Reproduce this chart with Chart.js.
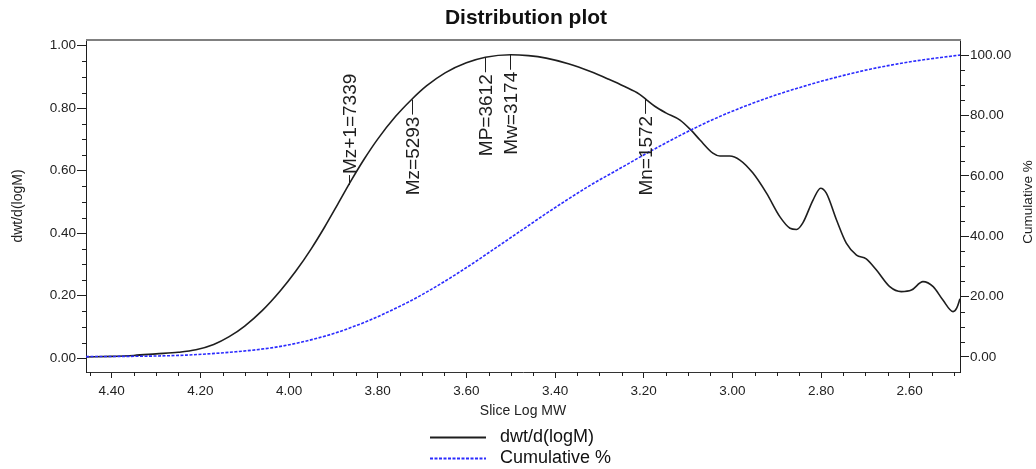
<!DOCTYPE html>
<html>
<head>
<meta charset="utf-8">
<script src="https://cdn.jsdelivr.net/npm/chart.js@4.4.0/dist/chart.umd.min.js"></script>
<style>
  html, body { margin: 0; padding: 0; background: #fff; }
</style>
</head>
<body>
<canvas id="chart" width="1036" height="469"></canvas>
<script>
// values (slice log MW, left to right = high to low)
const dwtLogMW = [4.458, 4.40, 4.35, 4.30, 4.25, 4.21, 4.17, 4.135, 4.10, 4.06, 4.02, 3.985, 3.95, 3.92, 3.89, 3.86,
  3.83, 3.80, 3.76, 3.724, 3.69, 3.648, 3.60, 3.557, 3.50, 3.46, 3.42, 3.37, 3.32, 3.28, 3.243, 3.21, 3.193, 3.175,
  3.15, 3.118, 3.092, 3.073, 3.044, 3.028, 3.006, 2.983, 2.954, 2.923, 2.893, 2.870, 2.855, 2.841, 2.818, 2.801,
  2.788, 2.765, 2.743, 2.720, 2.698, 2.675, 2.645, 2.619, 2.596, 2.570, 2.547, 2.525, 2.502, 2.494, 2.4865];
const dwtValues = [0.004, 0.006, 0.009, 0.014, 0.019, 0.027, 0.044, 0.069, 0.103, 0.153, 0.215, 0.278, 0.350, 0.419, 0.493, 0.568,
  0.638, 0.701, 0.773, 0.827, 0.871, 0.913, 0.945, 0.963, 0.971, 0.968, 0.960, 0.942, 0.917, 0.893, 0.869, 0.845, 0.826, 0.806,
  0.785, 0.762, 0.728, 0.698, 0.656, 0.647, 0.647, 0.634, 0.593, 0.528, 0.453, 0.416, 0.412, 0.433, 0.506, 0.544,
  0.528, 0.442, 0.368, 0.330, 0.318, 0.282, 0.229, 0.213, 0.218, 0.245, 0.229, 0.186, 0.149, 0.160, 0.190];

const cumLogMW = [4.458, 4.30, 4.232, 4.12, 4.045, 4.015, 3.969, 3.926, 3.894, 3.85, 3.819, 3.781, 3.724, 3.68, 3.623,
  3.57, 3.522, 3.47, 3.42, 3.37, 3.319, 3.26, 3.205, 3.15, 3.092, 3.04, 2.99, 2.94, 2.889, 2.84, 2.80, 2.74, 2.687,
  2.63, 2.585, 2.53, 2.4865];
const cumValues = [0.1, 0.3, 0.6, 1.7, 2.9, 3.6, 5.0, 6.6, 8.0, 10.3, 12.1, 14.6, 18.7, 22.3, 27.4,
  32.5, 37.3, 42.5, 47.5, 52.3, 57.0, 61.9, 66.5, 70.9, 75.3, 78.9, 82.0, 84.8, 87.4, 89.6, 91.3, 93.6, 95.4,
  97.0, 98.1, 99.2, 100];

// tick labels
const xTicks = [4.40, 4.20, 4.00, 3.80, 3.60, 3.40, 3.20, 3.00, 2.80, 2.60];
const leftTicks = [0, 0.2, 0.4, 0.6, 0.8, 1.0];
const rightTicks = [0, 20, 40, 60, 80, 100];

// molecular weight averages marked on the curve
const markerNames = ['Mz+1', 'Mz', 'MP', 'Mw', 'Mn'];
const markerMW = [7339, 5293, 3612, 3174, 1572];

const seriesNames = ['dwt/d(logM)', 'Cumulative %'];

// styling
const FONT = '"Liberation Sans", Arial, sans-serif';
const INK = '#1e1e1e';
const BLUE = '#2b2bff';
const markerAbove = ['Mz+1'];

function pairs(xs, ys) {
  return xs.map((x, i) => ({ x: x, y: ys[i] }));
}

function valueAt(xs, ys, x) {
  for (let i = 0; i < xs.length - 1; i++) {
    if ((xs[i] - x) * (xs[i + 1] - x) <= 0) {
      const t = (x - xs[i]) / (xs[i + 1] - xs[i]);
      return ys[i] + t * (ys[i + 1] - ys[i]);
    }
  }
  return 0;
}

// minor ticks, frame, markers, legend, titles
const extras = {
  id: 'extras',
  afterDatasetsDraw(chart) {
    const ctx = chart.ctx;
    const area = chart.chartArea;
    const sx = chart.scales.x, sy = chart.scales.y, sy2 = chart.scales.y2;
    ctx.save();

    // top edge of the frame
    ctx.strokeStyle = '#808080';
    ctx.lineWidth = 2;
    ctx.beginPath();
    ctx.moveTo(area.left, area.top);
    ctx.lineTo(area.right + 1, area.top);
    ctx.stroke();

    // minor ticks
    ctx.strokeStyle = INK;
    ctx.lineWidth = 1;
    ctx.beginPath();
    for (let k = Math.ceil(sx.min * 20); k <= Math.floor(sx.max * 20); k++) {
      if (k % 4 === 0) continue;
      const px = Math.round(sx.getPixelForValue(k / 20)) + 0.5;
      ctx.moveTo(px, area.bottom);
      ctx.lineTo(px, area.bottom + 4);
    }
    for (let k = Math.max(0, Math.ceil(sy.min * 20)); k <= Math.floor(sy.max * 20); k++) {
      if (k % 4 === 0) continue;
      const py = Math.round(sy.getPixelForValue(k / 20)) + 0.5;
      ctx.moveTo(area.left - 4, py);
      ctx.lineTo(area.left, py);
    }
    for (let k = Math.max(0, Math.ceil(sy2.min / 5)); k <= Math.min(20, Math.floor(sy2.max / 5)); k++) {
      if (k % 4 === 0) continue;
      const py = Math.round(sy2.getPixelForValue(k * 5)) + 0.5;
      ctx.moveTo(area.right, py);
      ctx.lineTo(area.right + 5, py);
    }
    ctx.stroke();

    // average markers
    ctx.font = '19px ' + FONT;
    ctx.fillStyle = INK;
    ctx.textBaseline = 'middle';
    markerNames.forEach((name, i) => {
      const lx = Math.log10(markerMW[i]);
      const px = Math.round(sx.getPixelForValue(lx)) + 0.5;
      const py = sy.getPixelForValue(valueAt(dwtLogMW, dwtValues, lx));
      const above = markerAbove.includes(name);
      const end = above ? py - 10 : py + 15;
      ctx.beginPath();
      ctx.moveTo(px, py);
      ctx.lineTo(px, end);
      ctx.stroke();
      ctx.save();
      ctx.translate(px, above ? end - 1 : end + 2);
      ctx.rotate(-Math.PI / 2);
      ctx.textAlign = above ? 'left' : 'right';
      ctx.fillText(name + '=' + markerMW[i], 0, 1);
      ctx.restore();
    });

    // right axis title, reads bottom to top
    ctx.save();
    ctx.font = '13.5px ' + FONT;
    ctx.fillStyle = INK;
    ctx.textAlign = 'center';
    ctx.translate(1028, (area.top + area.bottom) / 2 - 4);
    ctx.rotate(-Math.PI / 2);
    ctx.fillText('Cumulative %', 0, 0);
    ctx.restore();

    // chart title
    ctx.font = 'bold 21px ' + FONT;
    ctx.fillStyle = '#111';
    ctx.textAlign = 'center';
    ctx.fillText('Distribution plot', 526, 18);

    // legend
    const cx = (area.left + area.right) / 2;
    const rows = [437, 458];
    ctx.font = '18px ' + FONT;
    ctx.textAlign = 'left';
    rows.forEach((ry, i) => {
      ctx.beginPath();
      ctx.lineWidth = i === 0 ? 2 : 1.8;
      ctx.strokeStyle = i === 0 ? INK : BLUE;
      ctx.setLineDash(i === 0 ? [] : [3, 1.5]);
      ctx.moveTo(cx - 93, ry + 0.5);
      ctx.lineTo(cx - 37, ry + 0.5);
      ctx.stroke();
      ctx.setLineDash([]);
      ctx.fillStyle = '#111';
      ctx.fillText(seriesNames[i], cx - 23, ry);
    });
    ctx.restore();
  }
};

const tickFont = { family: FONT, size: 13.5 };

new Chart(document.getElementById('chart').getContext('2d'), {
  type: 'line',
  data: {
    datasets: [{
      label: seriesNames[0],
      data: pairs(dwtLogMW, dwtValues),
      yAxisID: 'y',
      borderColor: INK,
      borderWidth: 1.6,
      pointRadius: 0,
      cubicInterpolationMode: 'monotone',
      order: 2
    }, {
      label: seriesNames[1],
      data: pairs(cumLogMW, cumValues),
      yAxisID: 'y2',
      borderColor: BLUE,
      borderWidth: 1.6,
      borderDash: [3, 1.5],
      pointRadius: 0,
      cubicInterpolationMode: 'monotone',
      order: 1
    }]
  },
  options: {
    responsive: false,
    animation: false,
    layout: { padding: { top: 40, left: 0, right: 0, bottom: 0 } },
    plugins: {
      legend: { display: false },
      title: { display: false },
      tooltip: { enabled: false }
    },
    scales: {
      x: {
        type: 'linear',
        reverse: true,
        min: 2.4865,
        max: 4.458,
        afterBuildTicks: (s) => { s.ticks = xTicks.map(v => ({ value: v })); },
        afterFit: (s) => { s.height = 97; },
        ticks: { font: tickFont, color: '#222', padding: 5, autoSkip: false, maxRotation: 0,
          callback: (v) => v.toFixed(2) },
        grid: { drawOnChartArea: false, drawTicks: true, tickLength: 6, tickColor: INK },
        border: { display: true, color: '#333', width: 1 },
        title: { display: true, text: 'Slice Log MW', color: '#222',
          font: { family: FONT, size: 14 }, padding: { top: 0, bottom: 49 } }
      },
      y: {
        type: 'linear',
        position: 'left',
        min: -0.044,
        max: 1.018,
        afterBuildTicks: (s) => { s.ticks = leftTicks.map(v => ({ value: v })); },
        afterFit: (s) => { s.width = 86; },
        ticks: { font: tickFont, color: '#222', padding: 1, callback: (v) => v.toFixed(2) },
        grid: { drawOnChartArea: false, drawTicks: true, tickLength: 9, tickColor: INK },
        border: { display: true, color: INK, width: 1 },
        title: { display: true, text: 'dwt/d(logM)', color: '#222',
          font: { family: FONT, size: 14 }, padding: { top: 10, bottom: 0 } }
      },
      y2: {
        type: 'linear',
        position: 'right',
        min: -5,
        max: 105,
        afterBuildTicks: (s) => { s.ticks = rightTicks.map(v => ({ value: v })); },
        afterFit: (s) => { s.width = 76; },
        ticks: { font: tickFont, color: '#222', padding: 1, callback: (v) => v.toFixed(2) },
        grid: { drawOnChartArea: false, drawTicks: true, tickLength: 9, tickColor: INK },
        border: { display: true, color: INK, width: 1 }
      }
    }
  },
  plugins: [extras]
});
</script>
</body>
</html>
